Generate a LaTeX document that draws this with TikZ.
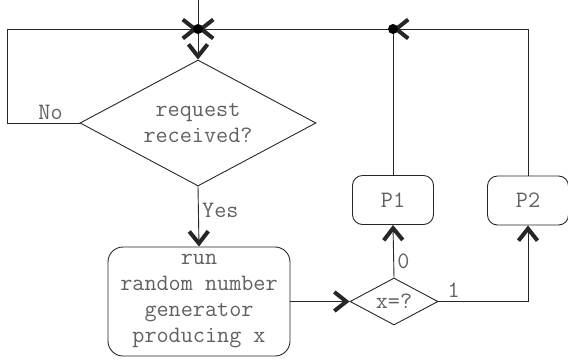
\documentclass[tikz,border=0pt]{standalone}
\usepackage{fontspec}
\usepackage{tikz}
\usetikzlibrary{arrows.meta,calc}
\usetikzlibrary{positioning,shapes}

\tikzset{
    flowtext/.style={text=black!62, font=\ttfamily\fontsize{23.5}{26}\selectfont},
    decision/.style={diamond, draw, flowtext, inner sep=0pt, aspect=1.87, align=center},
    process/.style={rectangle, rounded corners=15pt, draw, flowtext, inner sep=0pt, align=center,
        minimum width=182pt, minimum height=109pt},
    outcome/.style={rectangle, rounded corners=10pt, draw, flowtext, inner sep=0pt,
        minimum width=81pt, minimum height=49pt},
    lbl/.style={flowtext}
}

\begin{document}
\begin{tikzpicture}[x=1pt, y=-1pt, line width=0.9pt, draw=black!85,
    >={Straight Barb[length=12pt, width=19pt, line width=4pt]}]
    \useasboundingbox (0,0) rectangle (568,360);

    % Nodes
    \node[decision, minimum width=236pt, minimum height=126pt] (req) at (198,123) {request\\received?};
    \node[process] (rng) at (199,301.5) {run\\random number\\generator\\producing x};
    \node[decision, minimum width=88pt, minimum height=47pt] (test) at (394,301.5) {x=?};
    \node[outcome] (p1) at (393,200) {P1};
    \node[outcome] (p2) at (528,200.5) {P2};

    \coordinate (entry) at (198,0);
    \coordinate (join) at (198,29);
    \coordinate (merge) at (393,29);
    \coordinate (corner) at (7,29);

    % Connectors
    \draw (entry) -- (join);
    \draw[->] (join) -- (req.north);
    \draw[->] (req.west) -- node[lbl, pos=0.4, above] {No} (req.west -| corner) -- (corner) -- (join);
    \draw[->] (req.south) -- node[lbl, pos=0.4, right] {Yes} (rng.north);
    \draw[->] (rng.east) -- (test.west);
    \draw[->] (test.north) -- node[lbl, pos=0.3, right] {0} (p1.south);
    \draw[->] (test.east) -- node[lbl, pos=0.17, above] {1} (test.east -| p2.south) -- (p2.south);
    \draw (p1.north) -- (merge);
    \draw[->] (p2.north) |- (merge);
    \draw[->] (merge) -- (join);

    % Junction dots
    \fill (join) circle (5pt);
    \fill (merge) circle (5pt);
\end{tikzpicture}
\end{document}
